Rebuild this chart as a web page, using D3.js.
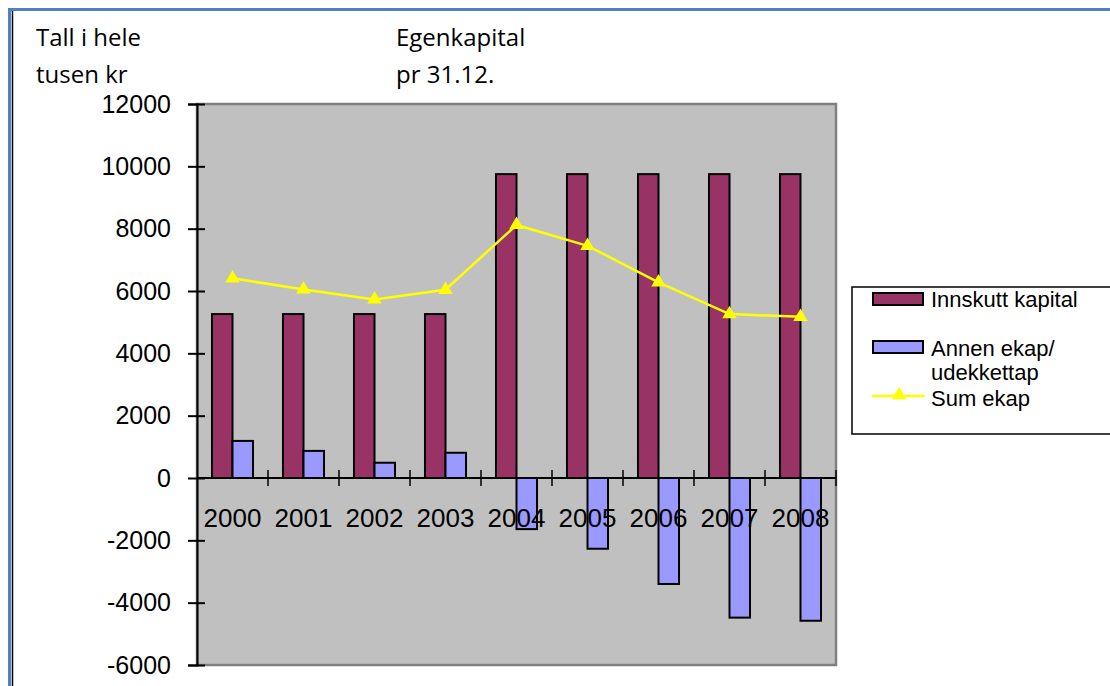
<!DOCTYPE html>
<meta charset="utf-8">
<style>
body { margin: 0; background: #fff; }
text { font-family: "Liberation Sans", Arial, sans-serif; }
.note { font-family: "Open Sans", sans-serif; font-size: 24px; fill: #000; }
</style>
<svg width="1110" height="686"></svg>
<script src="https://d3js.org/d3.v7.min.js"></script>
<script>

var years = ["2000", "2001", "2002", "2003", "2004", "2005", "2006", "2007", "2008"];
var innskutt = [5260, 5260, 5260, 5260, 9750, 9750, 9750, 9750, 9750];
var annen = [1190, 870, 490, 810, -1640, -2270, -3400, -4480, -4580];
var sumEkap = [6410, 6050, 5730, 6040, 8120, 7450, 6280, 5260, 5170];
var yTicks = [-6000, -4000, -2000, 0, 2000, 4000, 6000, 8000, 10000, 12000];
var seriesNames = ["Innskutt kapital", "Annen ekap/", "Sum ekap"];

var svg = d3.select("svg"),
    plot = {left: 197, right: 836, top: 104, bottom: 665};

// outer frame (blue + black on the left, blue on top)
svg.append("rect").attr("x", 8).attr("y", 8).attr("width", 1110).attr("height", 3).attr("fill", "#4f81bd");
svg.append("rect").attr("x", 8).attr("y", 8).attr("width", 3).attr("height", 686).attr("fill", "#4f81bd");
svg.append("line").attr("x1", 12.5).attr("x2", 12.5).attr("y1", 11).attr("y2", 686)
    .attr("stroke", "#000").attr("stroke-width", 1.5);

var x0 = d3.scaleBand().domain(years).range([plot.left, plot.right]);
var x1 = d3.scaleBand().domain(["innskutt", "annen"])
    .range([x0.bandwidth() * 0.211, x0.bandwidth() * 0.789]);
var y = d3.scaleLinear().domain([-6000, 12000]).range([plot.bottom, plot.top]);
var colors = {innskutt: "#993366", annen: "#9999ff"};

// plot area
svg.append("rect")
    .attr("x", plot.left).attr("y", plot.top)
    .attr("width", plot.right - plot.left).attr("height", plot.bottom - plot.top)
    .attr("fill", "#c0c0c0").attr("stroke", "#808080").attr("stroke-width", 2.5);

// bars
var rows = years.map(function(d, i) {
  return {year: d, values: [{key: "innskutt", value: innskutt[i]}, {key: "annen", value: annen[i]}]};
});

svg.append("g")
  .selectAll("g")
  .data(rows)
  .enter().append("g")
    .attr("transform", function(d) { return "translate(" + x0(d.year) + ",0)"; })
  .selectAll("rect")
  .data(function(d) { return d.values; })
  .enter().append("rect")
    .attr("x", function(d) { return x1(d.key); })
    .attr("y", function(d) { return y(Math.max(0, d.value)); })
    .attr("width", x1.bandwidth())
    .attr("height", function(d) { return Math.abs(y(d.value) - y(0)); })
    .attr("fill", function(d) { return colors[d.key]; })
    .attr("stroke", "#000").attr("stroke-width", 2);

// y axis (plain hyphen for negatives, like the original)
var yAxis = svg.append("g")
    .attr("transform", "translate(" + plot.left + ",0)")
    .call(d3.axisLeft(y).tickValues(yTicks).tickSize(9).tickPadding(17)
      .tickFormat(function(d) { return String(d); }));
yAxis.select(".domain").attr("stroke", "#000").attr("stroke-width", 2);
yAxis.selectAll(".tick line").attr("x2", 8).attr("x1", -9).attr("stroke-width", 2);
yAxis.selectAll(".tick text").attr("font-size", 25).attr("fill", "#000")
    .attr("font-family", "Liberation Sans, Arial, sans-serif");

// zero line with category ticks
var xAxis = svg.append("g")
    .attr("transform", "translate(0," + y(0) + ")");
xAxis.append("line")
    .attr("x1", plot.left).attr("x2", plot.right)
    .attr("stroke", "#000").attr("stroke-width", 2);
xAxis.selectAll(".ctick")
  .data(years)
  .enter().append("line")
    .attr("class", "ctick")
    .attr("x1", function(d) { return x0(d) + x0.bandwidth(); })
    .attr("x2", function(d) { return x0(d) + x0.bandwidth(); })
    .attr("y1", -8).attr("y2", 8)
    .attr("stroke", "#000").attr("stroke-width", 1.5);
xAxis.selectAll(".clabel")
  .data(years)
  .enter().append("text")
    .attr("class", "clabel")
    .attr("x", function(d) { return x0(d) + x0.bandwidth() / 2; })
    .attr("y", 49)
    .attr("text-anchor", "middle")
    .attr("font-size", 26)
    .text(function(d) { return d; });

// sum line
var line = d3.line()
    .x(function(d, i) { return x0(years[i]) + x0.bandwidth() / 2; })
    .y(function(d) { return y(d); });

svg.append("path")
    .datum(sumEkap)
    .attr("d", line)
    .attr("fill", "none")
    .attr("stroke", "#ffff00")
    .attr("stroke-width", 2.5);

var tri = d3.symbol().type(d3.symbolTriangle).size(90);
svg.selectAll(".marker")
  .data(sumEkap)
  .enter().append("path")
    .attr("class", "marker")
    .attr("transform", function(d, i) {
      return "translate(" + (x0(years[i]) + x0.bandwidth() / 2) + "," + y(d) + ")";
    })
    .attr("d", tri)
    .attr("fill", "#ffff00");

// notes
svg.append("text").attr("class", "note").attr("x", 36).attr("y", 46).text("Tall i hele");
svg.append("text").attr("class", "note").attr("x", 36).attr("y", 83).text("tusen kr");
svg.append("text").attr("class", "note").attr("x", 396).attr("y", 46).text("Egenkapital");
svg.append("text").attr("class", "note").attr("x", 396).attr("y", 83).text("pr 31.12.");

// legend
var legend = svg.append("g").attr("transform", "translate(852,287)");
legend.append("rect")
    .attr("width", 280).attr("height", 147)
    .attr("fill", "#fff").attr("stroke", "#000").attr("stroke-width", 1.5);

legend.append("rect").attr("x", 21).attr("y", 6).attr("width", 50).attr("height", 12)
    .attr("fill", colors.innskutt).attr("stroke", "#000").attr("stroke-width", 2);
legend.append("rect").attr("x", 21).attr("y", 54).attr("width", 50).attr("height", 12)
    .attr("fill", colors.annen).attr("stroke", "#000").attr("stroke-width", 2);
legend.append("line").attr("x1", 20).attr("x2", 73).attr("y1", 109).attr("y2", 109)
    .attr("stroke", "#ffff00").attr("stroke-width", 2.5);
legend.append("path").attr("transform", "translate(47,108)").attr("d", tri).attr("fill", "#ffff00");

var lt = legend.append("g").attr("font-size", 22).attr("fill", "#000");
lt.append("text").attr("x", 79).attr("y", 20).text(seriesNames[0]);
lt.append("text").attr("x", 79).attr("y", 69).text(seriesNames[1]);
lt.append("text").attr("x", 79).attr("y", 93).text("udekkettap");
lt.append("text").attr("x", 79).attr("y", 119).text(seriesNames[2]);

</script>
